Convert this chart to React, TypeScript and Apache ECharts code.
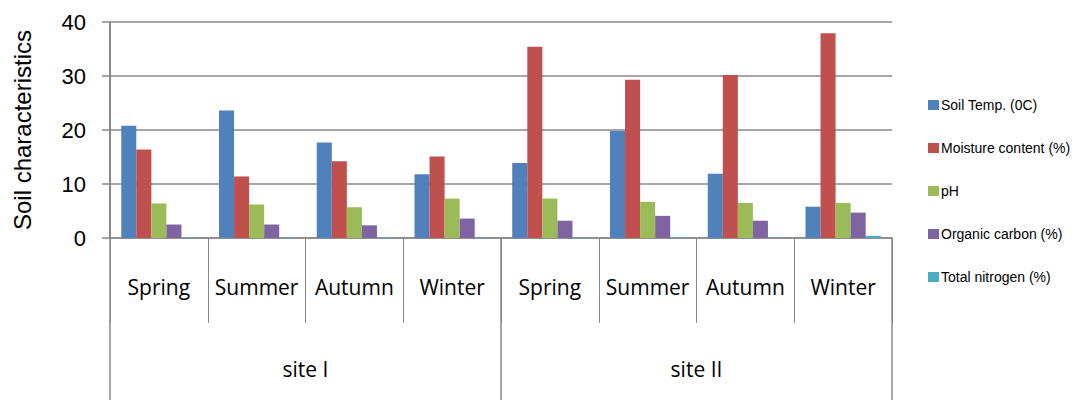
import React, { useEffect, useRef } from "react";
import * as echarts from "echarts";

const seasons = ["Spring", "Summer", "Autumn", "Winter", "Spring", "Summer", "Autumn", "Winter"];
const sites = ["site I", "site II"];
const seriesNames = [
  "Soil Temp. (0C)",
  "Moisture content (%)",
  "pH",
  "Organic carbon (%)",
  "Total nitrogen (%)",
];
const soilTemp = [20.8, 23.6, 17.7, 11.8, 13.9, 19.8, 11.9, 5.8];
const moisture = [16.4, 11.4, 14.2, 15.1, 35.4, 29.3, 30.2, 37.9];
const ph = [6.4, 6.2, 5.7, 7.3, 7.3, 6.7, 6.5, 6.5];
const organicCarbon = [2.5, 2.5, 2.35, 3.6, 3.2, 4.1, 3.2, 4.7];
const totalNitrogen = [0.1, 0.1, 0.1, 0.1, 0.1, 0.1, 0.1, 0.4];
const colors = ["#4F81BD", "#C0504D", "#9BBB59", "#8064A2", "#4BACC6"];

export default function App() {
  const ref = useRef<HTMLDivElement>(null);
  useEffect(() => {
    if (!ref.current) return;
    const chart = echarts.init(ref.current, null, { renderer: "svg" });
    const values = [soilTemp, moisture, ph, organicCarbon, totalNitrogen];
    const gray = "#898989";
    chart.setOption({
      animation: false,
      color: colors,
      grid: { left: 110, right: 183, top: 22, bottom: 162, containLabel: false },
      legend: {
        orient: "vertical",
        left: 928,
        top: 98,
        padding: 0,
        itemWidth: 11,
        itemHeight: 10,
        itemGap: 29,
        icon: "rect",
        data: seriesNames,
        textStyle: {
          fontFamily: "Liberation Sans, Arial",
          fontSize: 14,
          lineHeight: 14,
          color: "#000",
          padding: [0, 0, 0, -3],
        },
      },
      xAxis: [
        {
          type: "category",
          data: seasons,
          position: "bottom",
          axisLine: { show: true, lineStyle: { color: gray, width: 1.5 } },
          axisTick: { show: true, interval: 0, length: 85, lineStyle: { color: gray, width: 1 } },
          axisLabel: {
            interval: 0,
            margin: 38,
            fontFamily: "Open Sans, Liberation Sans",
            fontSize: 21,
            color: "#000",
          },
        },
        {
          type: "category",
          data: sites,
          position: "bottom",
          axisLine: { show: false },
          axisTick: { show: true, length: 162, lineStyle: { color: gray, width: 1.5 } },
          axisLabel: {
            margin: 120,
            fontFamily: "Open Sans, Liberation Sans",
            fontSize: 21,
            color: "#000",
          },
        },
      ],
      yAxis: {
        type: "value",
        min: 0,
        max: 40,
        interval: 10,
        name: "Soil characteristics",
        nameLocation: "middle",
        nameGap: 76,
        nameTextStyle: { fontFamily: "Liberation Sans, Arial", fontSize: 24, color: "#000" },
        axisLine: { show: true, lineStyle: { color: gray, width: 2 } },
        axisTick: { show: true, length: 8, lineStyle: { color: gray, width: 1.5 } },
        axisLabel: {
          margin: 24,
          fontFamily: "Liberation Sans, Arial",
          fontSize: 22,
          color: "#000",
        },
        splitLine: { show: true, lineStyle: { color: gray, width: 1.5 } },
      },
      series: seriesNames.map((name, i) => ({
        name,
        type: "bar",
        xAxisIndex: 0,
        data: values[i],
        barGap: "0%",
        barCategoryGap: "23%",
        itemStyle: { color: colors[i] },
      })),
    });
    return () => chart.dispose();
  }, []);
  return (
    <div
      ref={ref}
      style={{ position: "fixed", left: 0, top: 0, width: 1075, height: 400, background: "#fff" }}
    />
  );
}
